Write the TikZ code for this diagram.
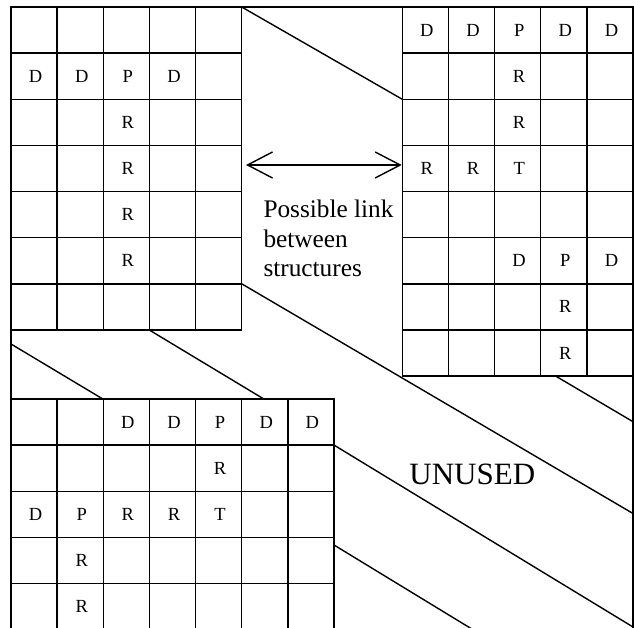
\documentclass[tikz,border=0pt]{standalone}
\usepackage{fontspec}
\setmainfont{Liberation Serif}
\usepackage{tikz}
\usetikzlibrary{arrows.meta, positioning}

\begin{document}
\begin{tikzpicture}[
  x=1pt, y=1pt,
  cellgrid/.style={line width=1.5pt, step=46.14pt},
  frame/.style={line width=1.5pt, line join=miter},
  hatch/.style={line width=1.4pt},
  letter/.style={font=\fontsize{18.5}{20}\selectfont, inner sep=0pt, xshift=1.5pt},
  note/.style={font=\fontsize{25.3}{29.5}\selectfont, align=left, inner sep=0pt},
  unused/.style={font=\fontsize{31}{34}\selectfont, inner sep=0pt},
  arrow/.style={{Straight Barb[length=25pt,width=26pt]}-{Straight Barb[length=25pt,width=26pt]}, line width=1.4pt}
]
\useasboundingbox (0,0) rectangle (634,628);
\clip (0,0) rectangle (634,628);

% outer frame
\draw[frame] (11,-10) -- (11,621) -- (633,621) -- (633,-10);

% unused area
\draw[hatch] (241.7,621) -- (402.3,528.7);
\draw[hatch] (241.7,344.2) -- (633,114.5);
\draw[hatch] (555.7,251.9) -- (633,206.3);
\draw[hatch] (334,182.9) -- (633,1);
\draw[hatch] (334,83) -- (480,-6);
\draw[hatch] (149.3,298) -- (264.3,228.7);
\draw[hatch] (11,284) -- (103.3,228.7);

% structure 1 (top left)
\begin{scope}[shift={(11,621)}, x=46.14pt, y=46.14pt]
  \draw[cellgrid] (0,0) rectangle (5,-7);
  \draw[cellgrid] (0,0) grid (5,-7);
  \node[letter] (a21) at (0.5,-1.5) {D};
  \node[letter] (a22) at (1.5,-1.5) {D};
  \node[letter] (a23) at (2.5,-1.5) {P};
  \node[letter] (a24) at (3.5,-1.5) {D};
  \node[letter] (a33) at (2.5,-2.5) {R};
  \node[letter] (a43) at (2.5,-3.5) {R};
  \node[letter] (a53) at (2.5,-4.5) {R};
  \node[letter] (a63) at (2.5,-5.5) {R};
\end{scope}

% structure 2 (top right)
\begin{scope}[shift={(402.3,621)}, x=46.14pt, y=46.14pt]
  \draw[cellgrid] (0,0) rectangle (5,-8);
  \draw[cellgrid] (0,0) grid (5,-8);
  \node[letter] (b11) at (0.5,-0.5) {D};
  \node[letter] (b12) at (1.5,-0.5) {D};
  \node[letter] (b13) at (2.5,-0.5) {P};
  \node[letter] (b14) at (3.5,-0.5) {D};
  \node[letter] (b15) at (4.5,-0.5) {D};
  \node[letter] (b23) at (2.5,-1.5) {R};
  \node[letter] (b33) at (2.5,-2.5) {R};
  \node[letter] (b41) at (0.5,-3.5) {R};
  \node[letter] (b42) at (1.5,-3.5) {R};
  \node[letter] (b43) at (2.5,-3.5) {T};
  \node[letter] (b63) at (2.5,-5.5) {D};
  \node[letter] (b64) at (3.5,-5.5) {P};
  \node[letter] (b65) at (4.5,-5.5) {D};
  \node[letter] (b74) at (3.5,-6.5) {R};
  \node[letter] (b84) at (3.5,-7.5) {R};
\end{scope}

% structure 3 (bottom left)
\begin{scope}[shift={(11,229)}, x=46.14pt, y=46.14pt]
  \draw[cellgrid] (0,0) rectangle (7,-5);
  \draw[cellgrid] (0,0) grid (7,-5);
  \node[letter] (c13) at (2.5,-0.5) {D};
  \node[letter] (c14) at (3.5,-0.5) {D};
  \node[letter] (c15) at (4.5,-0.5) {P};
  \node[letter] (c16) at (5.5,-0.5) {D};
  \node[letter] (c17) at (6.5,-0.5) {D};
  \node[letter] (c25) at (4.5,-1.5) {R};
  \node[letter] (c31) at (0.5,-2.5) {D};
  \node[letter] (c32) at (1.5,-2.5) {P};
  \node[letter] (c33) at (2.5,-2.5) {R};
  \node[letter] (c34) at (3.5,-2.5) {R};
  \node[letter] (c35) at (4.5,-2.5) {T};
  \node[letter] (c42) at (1.5,-3.5) {R};
  \node[letter] (c52) at (1.5,-4.5) {R};
\end{scope}

% link between structures
\coordinate (linkL) at (246,463);
\coordinate (linkR) at (401.7,463);
\draw[arrow] (linkL) -- (linkR);
\node[note, anchor=base west] (link) at (263.3,351.3) {Possible link\\between\\structures};

\node[unused] (free) at (472.3,153.2) {UNUSED};

\end{tikzpicture}
\end{document}
